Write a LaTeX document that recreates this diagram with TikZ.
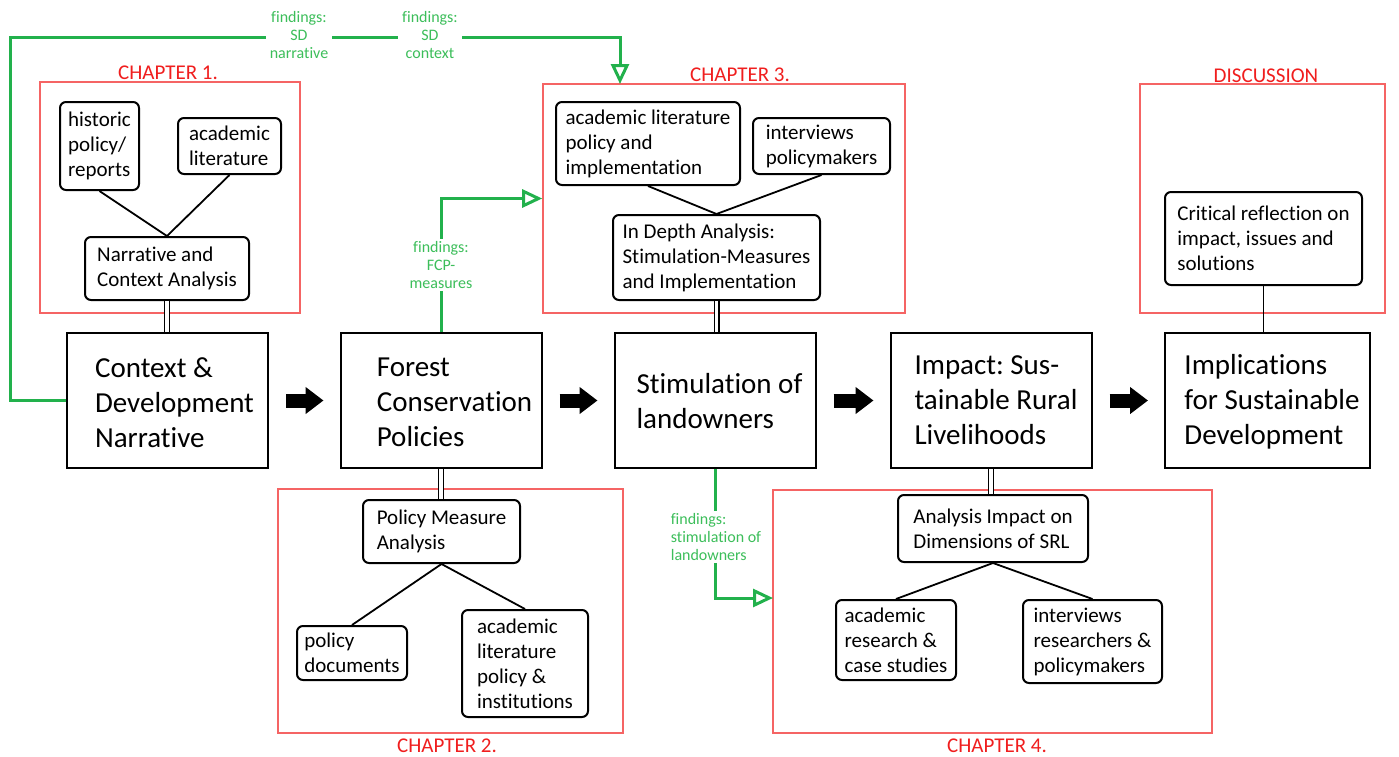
\documentclass[tikz,border=0pt]{standalone}
\usepackage{fontspec}
\setmainfont{Carlito}[Ligatures=NoCommon]
\frenchspacing
\usetikzlibrary{arrows.meta}
\definecolor{gline}{RGB}{34,177,76}
\definecolor{gtext}{RGB}{60,190,90}
\definecolor{rbox}{RGB}{245,100,100}
\definecolor{rtext}{RGB}{240,30,30}
\tikzset{
 mainbox/.style={draw=black, line width=1pt, minimum width=100.5pt, minimum height=67.5pt, inner sep=0pt},
 maintext/.style={align=left, font=\fontsize{14.5pt}{17.5pt}\selectfont, inner sep=0pt},
 smallbox/.style={draw=black, line width=1pt, rounded corners=3pt, align=left, font=\fontsize{10.5pt}{12.5pt}\selectfont, inner sep=0pt},
 redbox/.style={draw=rbox, line width=0.8pt, inner sep=0pt},
 redlabel/.style={text=rtext, font=\fontsize{10.5pt}{12.5pt}\selectfont, inner sep=0pt},
 link/.style={draw=black, line width=0.9pt},
 dlink/.style={draw=black, line width=0.7pt, double=white, double distance=1.6pt},
 glink/.style={draw=gline, line width=1.5pt, -{Triangle[open, length=10pt, width=9pt]}},
 glabel/.style={text=gtext, fill=white, align=center, font=\fontsize{8pt}{9pt}\selectfont, inner xsep=2pt, inner ysep=1pt},
 blockarrow/.style={line width=7pt, -{Triangle[length=9pt, width=13pt]}, shorten <=8.5pt, shorten >=8pt},
}
\begin{document}
\begin{tikzpicture}[x=0.5pt,y=-0.5pt]
\useasboundingbox (0,0) rectangle (1399,756);
\fill[white] (0,0) rectangle (1399,756);

% red chapter frames
\node[redbox, minimum width=130pt, minimum height=115.5pt] (ch1) at (170,197.5) {};
\node[redbox, minimum width=181pt, minimum height=114.5pt] (ch3) at (724,198.5) {};
\node[redbox, minimum width=122.5pt, minimum height=114.5pt] (disc) at (1262.5,198.5) {};
\node[redbox, minimum width=172.5pt, minimum height=122pt] (ch2) at (450.5,611) {};
\node[redbox, minimum width=219.5pt, minimum height=121.5pt] (ch4) at (992.5,611.5) {};
\node[redlabel] (ch1L) at (168,73) {CHAPTER 1.};
\node[redlabel] (ch3L) at (740,75) {CHAPTER 3.};
\node[redlabel] (discL) at (1266,76) {DISCUSSION};
\node[redlabel] (ch2L) at (447,746) {CHAPTER 2.};
\node[redlabel] (ch4L) at (997,746) {CHAPTER 4.};

% main boxes
\node[mainbox] (ctx) at (167.5,400.5) {};
\node[mainbox] (fcp) at (441,400.5) {};
\node[mainbox] (stim) at (715,400.5) {};
\node[mainbox] (imp) at (991,400.5) {};
\node[mainbox, minimum width=102.5pt] (impl) at (1267.5,400.5) {};
\node[maintext] (ctxT) at (174.5,403) {Context \&\\Development\\Narrative};
\node[maintext] (fcpT) at (454.5,402) {Forest\\Conservation\\Policies};
\node[maintext] (stimT) at (719.5,401) {Stimulation of\\landowners};
\node[maintext] (impT) at (996,400) {Impact: Sus-\\tainable Rural\\Livelihoods};
\node[maintext] (implT) at (1272,402) {Implications\\for Sustainable\\Development};

% block arrows
\draw[blockarrow] (ctx.east) -- (fcp.west);
\draw[blockarrow] (fcp.east) -- (stim.west);
\draw[blockarrow] (stim.east) -- (imp.west);
\draw[blockarrow] (imp.east) -- (impl.west);

% chapter 1
\node[smallbox, minimum width=39.5pt, minimum height=44pt] (hist) at (99.5,146) {historic\\policy/\\reports};
\node[smallbox, minimum width=51.5pt, minimum height=28pt] (acad1) at (229.5,146) {academic\\literature};
\node[smallbox, minimum width=82pt, minimum height=31.5pt] (narr) at (167,268.5) {Narrative and\\Context Analysis};
\draw[link] (hist.south) -- (narr.north);
\draw[link] (acad1.south) -- (narr.north);
\draw[dlink] (narr.south) -- (narr.south |- ctx.north);

% chapter 3
\node[smallbox, minimum width=92pt, minimum height=41.5pt] (acad3) at (648,143.5) {academic literature\\policy and\\implementation};
\node[smallbox, minimum width=68.5pt, minimum height=28pt] (int3) at (821.5,146) {interviews\\policymakers};
\node[smallbox, minimum width=103.5pt, minimum height=42.5pt] (depth) at (716.5,257.5) {In Depth Analysis:\\Stimulation-Measures\\and Implementation};
\draw[link] (acad3.south) -- (depth.north);
\draw[link] (int3.south) -- (depth.north);
\draw[dlink] (depth.south) -- (depth.south |- stim.north);

% discussion
\node[smallbox, minimum width=98.5pt, minimum height=46.5pt] (crit) at (1263.5,238.5) {Critical reflection on\\impact, issues and\\solutions};
\draw[link] (crit.south) -- (crit.south |- impl.north);

% chapter 2
\node[smallbox, minimum width=78.5pt, minimum height=31.5pt] (pma) at (441.5,531.5) {Policy Measure\\Analysis};
\node[smallbox, minimum width=55pt, minimum height=27pt] (pdoc) at (352,653) {policy\\documents};
\node[smallbox, minimum width=63pt, minimum height=53.5pt] (acad2) at (525,663.5) {academic\\literature\\policy \&\\institutions};
\draw[dlink] (fcp.south) -- (fcp.south |- pma.north);
\draw[link] (pma.south) -- (pdoc.north);
\draw[link] (pma.south) -- (acad2.north);

% chapter 4
\node[smallbox, minimum width=95pt, minimum height=33.5pt] (aimp) at (993,528.5) {Analysis Impact on\\Dimensions of SRL};
\node[smallbox, minimum width=60pt, minimum height=40pt] (acad4) at (896,640) {academic\\research \&\\case studies};
\node[smallbox, minimum width=69.5pt, minimum height=41.5pt] (int4) at (1092.5,641.5) {interviews\\researchers \&\\policymakers};
\draw[dlink] (imp.south) -- (imp.south |- aimp.north);
\draw[link] (aimp.south) -- (acad4.north);
\draw[link] (aimp.south) -- (int4.north);

% green findings connectors
\coordinate (g1a) at (10,37);
\coordinate (g1b) at (620,37);
\coordinate (g1c) at (620,84);
\draw[glink] (ctx.west) -| (g1a) -- (g1b) -- (g1c);
\node[glabel] (lab1) at (299,35) {findings:\\SD\\narrative};
\node[glabel] (lab2) at (430,35) {findings:\\SD\\context};

\draw[glink] (fcp.north) |- (ch3.west);
\node[glabel] (lab3) at (441,265) {findings:\\FCP-\\measures};

\coordinate (g3) at (773,598);
\draw[glink] (stim.south) |- (g3);
\node[glabel, align=left] (lab4) at (716,537) {findings:\\stimulation of\\landowners};
\end{tikzpicture}
\end{document}
